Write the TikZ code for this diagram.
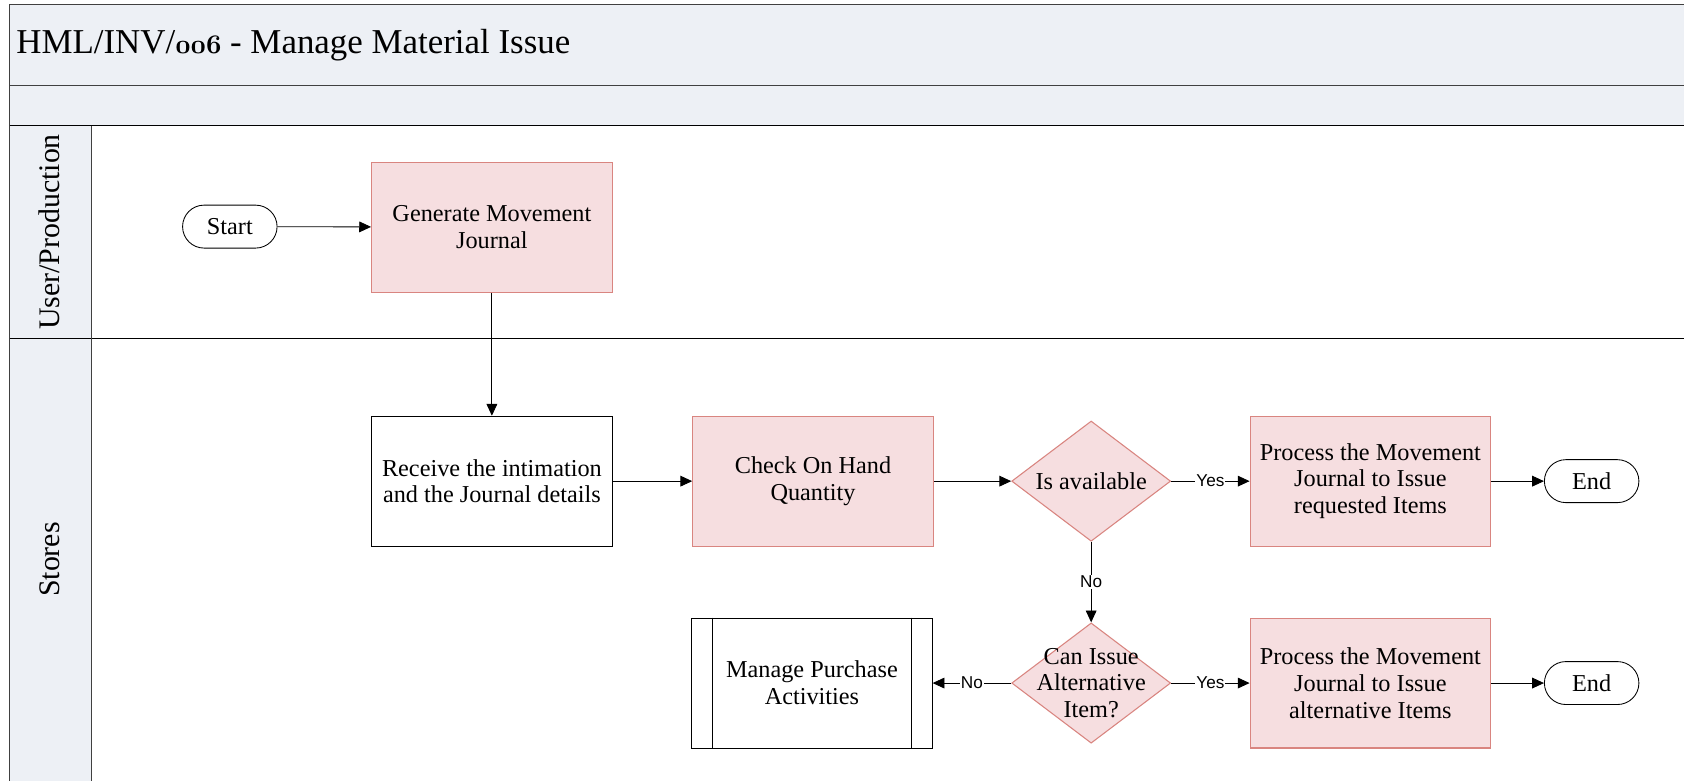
\documentclass[tikz,border=0pt]{standalone}
\usepackage{fontspec}
\setmainfont{Liberation Serif}
\newfontfamily\labelsans{Liberation Sans}
\usetikzlibrary{arrows.meta,shapes.geometric,positioning}

\definecolor{laneback}{HTML}{EDF0F5}
\definecolor{taskfill}{HTML}{F6DEE0}
\definecolor{taskline}{HTML}{D98580}
\definecolor{frameline}{HTML}{404040}

% old-style figures taken from the math letter font
\newcommand{\osdigits}[1]{{\fontsize{36}{36}\usefont{OML}{cmm}{b}{it}#1}}

\tikzset{
  txt/.style={font=\fontsize{22.6}{25}\selectfont, align=center},
  task/.style={txt, draw=taskline, fill=taskfill, line width=1pt,
    minimum width=224pt, minimum height=121pt, inner sep=0pt},
  plain/.style={txt, draw=black, fill=white, line width=0.8pt,
    minimum width=224pt, minimum height=121pt, inner sep=0pt},
  terminal/.style={txt, draw=black, fill=white, line width=0.8pt,
    rounded corners=20pt, minimum width=88pt, minimum height=40pt, inner sep=0pt},
  decision/.style={diamond, draw=taskline, fill=taskfill, line width=1pt,
    minimum width=148pt, minimum height=112pt, inner sep=0pt, aspect=1.32},
  flow/.style={draw=black, line width=0.8pt, -{Triangle[length=11pt,width=10pt]}},
  guard/.style={font=\labelsans\fontsize{16}{16}\selectfont, fill=white, inner sep=1pt},
  lanetitle/.style={font=\fontsize{27.8}{30}\selectfont, rotate=90},
  frame/.style={draw=frameline, line width=1pt}
}

\begin{document}
\begin{tikzpicture}[x=1pt,y=-1pt]
\useasboundingbox (0,0) rectangle (1568,727);

% header bands and lane heading column
\fill[laneback] (9,4) rectangle (1568,117);
\fill[laneback] (9,117) rectangle (85,727);
\draw[frame] (1568,4) -- (9,4) -- (9,727);
\draw[frame] (9,80) -- (1568,80);
\draw[black, line width=1pt] (9,117) -- (1568,117);
\draw[black, line width=0.8pt] (9,315) -- (1568,315);
\draw[frame] (85,117) -- (85,727);

\node[anchor=west, font=\fontsize{32.5}{36}\selectfont, inner sep=0pt] (title) at (15,42)
  {HML/INV/\osdigits{006} - Manage Material Issue};

\node[lanetitle] (laneuser) at (46,216) {User/Production};
\node[lanetitle] (lanestores) at (46,521) {Stores};

% User/Production lane
\node[terminal] (start) at (214,211) {Start};
\node[task] (generate) at (458,211.5) {Generate Movement\\Journal};

% Stores lane
\node[plain] (receive) at (458,448) {Receive the intimation\\and the Journal details};
\node[task] (check) at (757,448) {Check On Hand\\Quantity};
\node[decision] (avail) at (1016,448) {};
\node[txt] (availtext) at (avail.center) {Is available};
\node[task] (issue) at (1276,448) {Process the Movement\\Journal to Issue\\requested Items};
\node[terminal] (end1) at (1482,448) {End};

\node[decision] (alt) at (1016,636) {};
\node[txt] (alttext) at (alt.center) {Can Issue\\Alternative\\Item?};
\node[plain] (purchase) at (756,636) {Manage Purchase\\Activities};
\draw[black, line width=0.8pt] ([xshift=20pt]purchase.north west) -- ([xshift=20pt]purchase.south west);
\draw[black, line width=0.8pt] ([xshift=-20pt]purchase.north east) -- ([xshift=-20pt]purchase.south east);
\node[task] (altissue) at (1276,636) {Process the Movement\\Journal to Issue\\alternative Items};
\node[terminal] (end2) at (1482,636) {End};

% connectors
\draw[flow] (start) -- (generate);
\draw[flow] (generate) -- (receive);
\draw[flow] (receive) -- (check);
\draw[flow] (check) -- (avail);
\draw[flow] (avail) -- node[guard] (yes1) {Yes} (issue);
\draw[flow] (issue) -- (end1);
\draw[flow] (avail) -- node[guard] (no1) {No} (alt);
\draw[flow] (alt) -- node[guard] (no2) {No} (purchase);
\draw[flow] (alt) -- node[guard] (yes2) {Yes} (altissue);
\draw[flow] (altissue) -- (end2);
\end{tikzpicture}
\end{document}
